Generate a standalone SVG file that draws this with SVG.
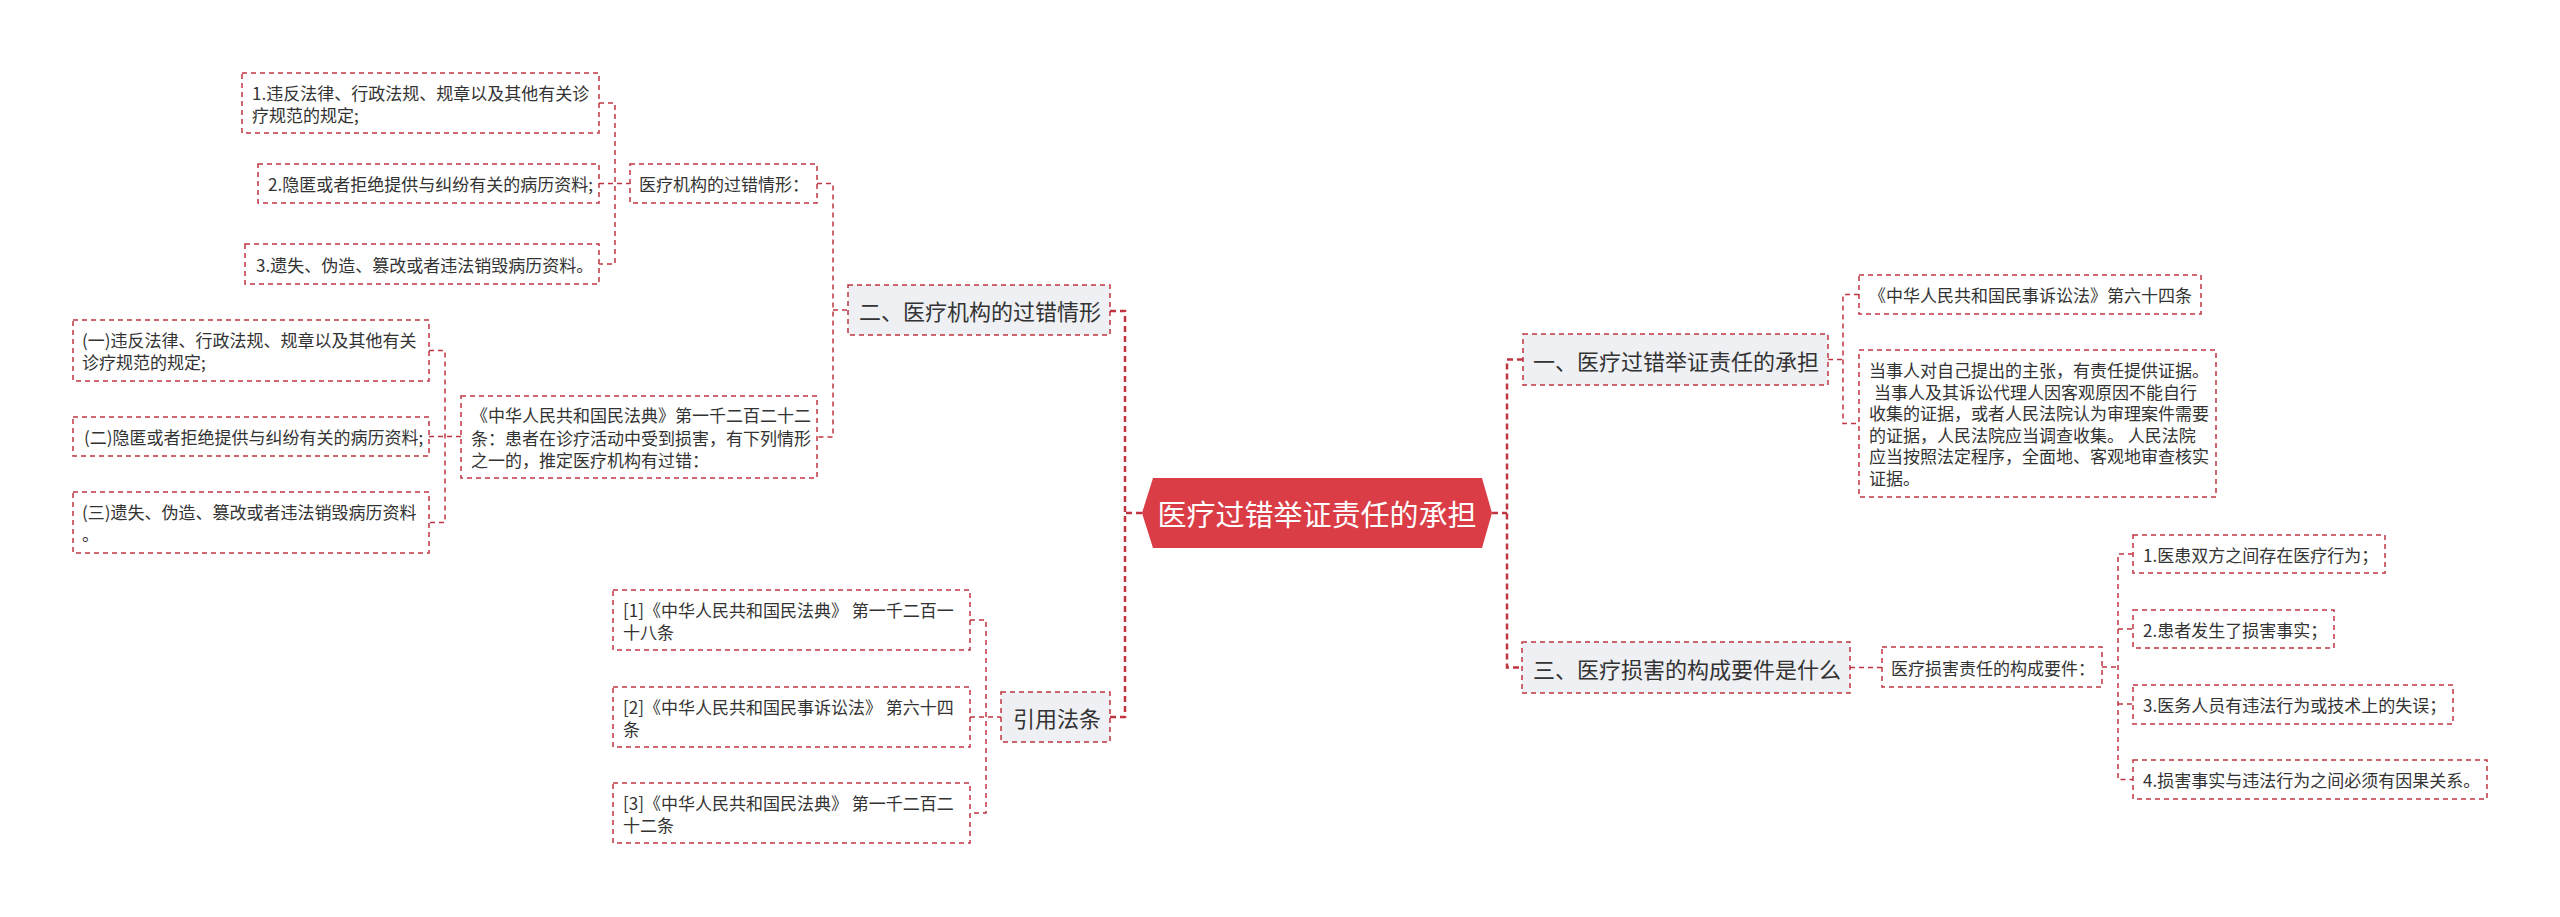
<svg xmlns="http://www.w3.org/2000/svg" width="2560" height="917" viewBox="0 0 2560 917">
<style>
text{font-family:"Noto Sans CJK SC","Noto Sans",sans-serif;fill:#333;dominant-baseline:central}
.b{fill:#fff;stroke:#bf3642;stroke-width:1.5;stroke-dasharray:5 4}
.l1{fill:#eef0f4;stroke:#bf3642;stroke-width:1.5;stroke-dasharray:5 4}
.t{font-size:17px}
.t1{font-size:22px}
.c{fill:none;stroke:#bf3642;stroke-width:1.5;stroke-dasharray:5 4}
.cm{fill:none;stroke:#bf3642;stroke-width:2.5;stroke-dasharray:6 4}
</style>
<rect width="2560" height="917" fill="#fff"/>
<g id="connectors">
<path class="cm" d="M1142,513 H1125 M1110,311 H1125 V717 H1110"/>
<path class="cm" d="M1492,513 H1507 M1523,359.5 H1507 V667.5 H1522"/>
<path class="c" d="M817,183.5 H833 V437 H817 M833,310 H848"/>
<path class="c" d="M599,103 H615 V264 H599 M599,183.5 H630"/>
<path class="c" d="M429,350.5 H445 V522.5 H429 M429,436.5 H461"/>
<path class="c" d="M970,620 H986 V813 H970 M970,717 H1001"/>
<path class="c" d="M1859,294.5 H1843 V423.5 H1859 M1828,359.5 H1843"/>
<path class="c" d="M1850,667.5 H1882"/>
<path class="c" d="M2133,554 H2118 V779.5 H2133 M2102,667 H2118 M2118,629 H2133 M2118,704 H2133"/>
</g>
<g id="root">
<polygon points="1142,513 1153,478 1482,478 1492,513 1482,548 1153,548" fill="#db3d47"/>
<text x="1317" y="513" text-anchor="middle" style="font-size:29px;fill:#fff">医疗过错举证责任的承担</text>
</g>
<g id="n-er">
<rect class="l1" x="848" y="285" width="262" height="50"/>
<text class="t1" x="859" y="310">二、医疗机构的过错情形</text>
</g>
<g id="n-yinyong">
<rect class="l1" x="1001" y="692" width="109" height="50"/>
<text class="t1" x="1013" y="717">引用法条</text>
</g>
<g id="n-yi">
<rect class="l1" x="1523" y="334" width="305" height="51"/>
<text class="t1" x="1533" y="359.5">一、医疗过错举证责任的承担</text>
</g>
<g id="n-san">
<rect class="l1" x="1522" y="642" width="328" height="51"/>
<text class="t1" x="1533" y="667.5">三、医疗损害的构成要件是什么</text>
</g>
<g id="n-guocuo">
<rect class="b" x="630" y="164" width="187" height="39"/>
<text class="t" x="639" y="183.5">医疗机构的过错情形：</text>
</g>
<g id="n-g1">
<rect class="b" x="242" y="73" width="357" height="60"/>
<text class="t" x="252" y="92">1.违反法律、行政法规、规章以及其他有关诊</text>
<text class="t" x="252" y="114">疗规范的规定;</text>
</g>
<g id="n-g2">
<rect class="b" x="258" y="164" width="341" height="39"/>
<text class="t" x="268" y="183.5">2.隐匿或者拒绝提供与纠纷有关的病历资料;</text>
</g>
<g id="n-g3">
<rect class="b" x="245" y="244" width="354" height="40"/>
<text class="t" x="256" y="264">3.遗失、伪造、篡改或者违法销毁病历资料。</text>
</g>
<g id="n-minfa">
<rect class="b" x="461" y="396" width="356" height="82"/>
<text class="t" x="471" y="414.5">《中华人民共和国民法典》第一千二百二十二</text>
<text class="t" x="471" y="437">条：患者在诊疗活动中受到损害，有下列情形</text>
<text class="t" x="471" y="459.5">之一的，推定医疗机构有过错：</text>
</g>
<g id="n-m1">
<rect class="b" x="73" y="320" width="356" height="61"/>
<text class="t" x="82" y="339.5">(一)违反法律、行政法规、规章以及其他有关</text>
<text class="t" x="82" y="361.5">诊疗规范的规定;</text>
</g>
<g id="n-m2">
<rect class="b" x="73" y="417" width="356" height="39"/>
<text class="t" x="84" y="436.5">(二)隐匿或者拒绝提供与纠纷有关的病历资料;</text>
</g>
<g id="n-m3">
<rect class="b" x="73" y="492" width="356" height="61"/>
<text class="t" x="82" y="511.5">(三)遗失、伪造、篡改或者违法销毁病历资料</text>
<text class="t" x="82" y="533.5">。</text>
</g>
<g id="n-r1">
<rect class="b" x="613" y="590" width="357" height="60"/>
<text class="t" x="623" y="609">[1]《中华人民共和国民法典》 第一千二百一</text>
<text class="t" x="623" y="631">十八条</text>
</g>
<g id="n-r2">
<rect class="b" x="613" y="687" width="357" height="60"/>
<text class="t" x="623" y="706">[2]《中华人民共和国民事诉讼法》 第六十四</text>
<text class="t" x="623" y="728">条</text>
</g>
<g id="n-r3">
<rect class="b" x="613" y="783" width="357" height="60"/>
<text class="t" x="623" y="802">[3]《中华人民共和国民法典》 第一千二百二</text>
<text class="t" x="623" y="824">十二条</text>
</g>
<g id="n-susong">
<rect class="b" x="1859" y="275" width="342" height="39"/>
<text class="t" x="1869" y="294.5">《中华人民共和国民事诉讼法》第六十四条</text>
</g>
<g id="n-dangshi">
<rect class="b" x="1859" y="350" width="357" height="147"/>
<text class="t" x="1869" y="369.5">当事人对自己提出的主张，有责任提供证据。</text>
<text class="t" x="1874" y="391.1">当事人及其诉讼代理人因客观原因不能自行</text>
<text class="t" x="1869" y="412.7">收集的证据，或者人民法院认为审理案件需要</text>
<text class="t" x="1869" y="434.3">的证据，人民法院应当调查收集。 人民法院</text>
<text class="t" x="1869" y="455.9">应当按照法定程序，全面地、客观地审查核实</text>
<text class="t" x="1869" y="477.5">证据。</text>
</g>
<g id="n-yaojian">
<rect class="b" x="1882" y="647" width="220" height="40"/>
<text class="t" x="1891" y="667">医疗损害责任的构成要件：</text>
</g>
<g id="n-y1">
<rect class="b" x="2133" y="535" width="252" height="38"/>
<text class="t" x="2143" y="554">1.医患双方之间存在医疗行为；</text>
</g>
<g id="n-y2">
<rect class="b" x="2133" y="610" width="201" height="38"/>
<text class="t" x="2143" y="629">2.患者发生了损害事实；</text>
</g>
<g id="n-y3">
<rect class="b" x="2133" y="685" width="320" height="39"/>
<text class="t" x="2143" y="704.5">3.医务人员有违法行为或技术上的失误；</text>
</g>
<g id="n-y4">
<rect class="b" x="2133" y="760" width="354" height="39"/>
<text class="t" x="2143" y="779.5">4.损害事实与违法行为之间必须有因果关系。</text>
</g>
</svg>
